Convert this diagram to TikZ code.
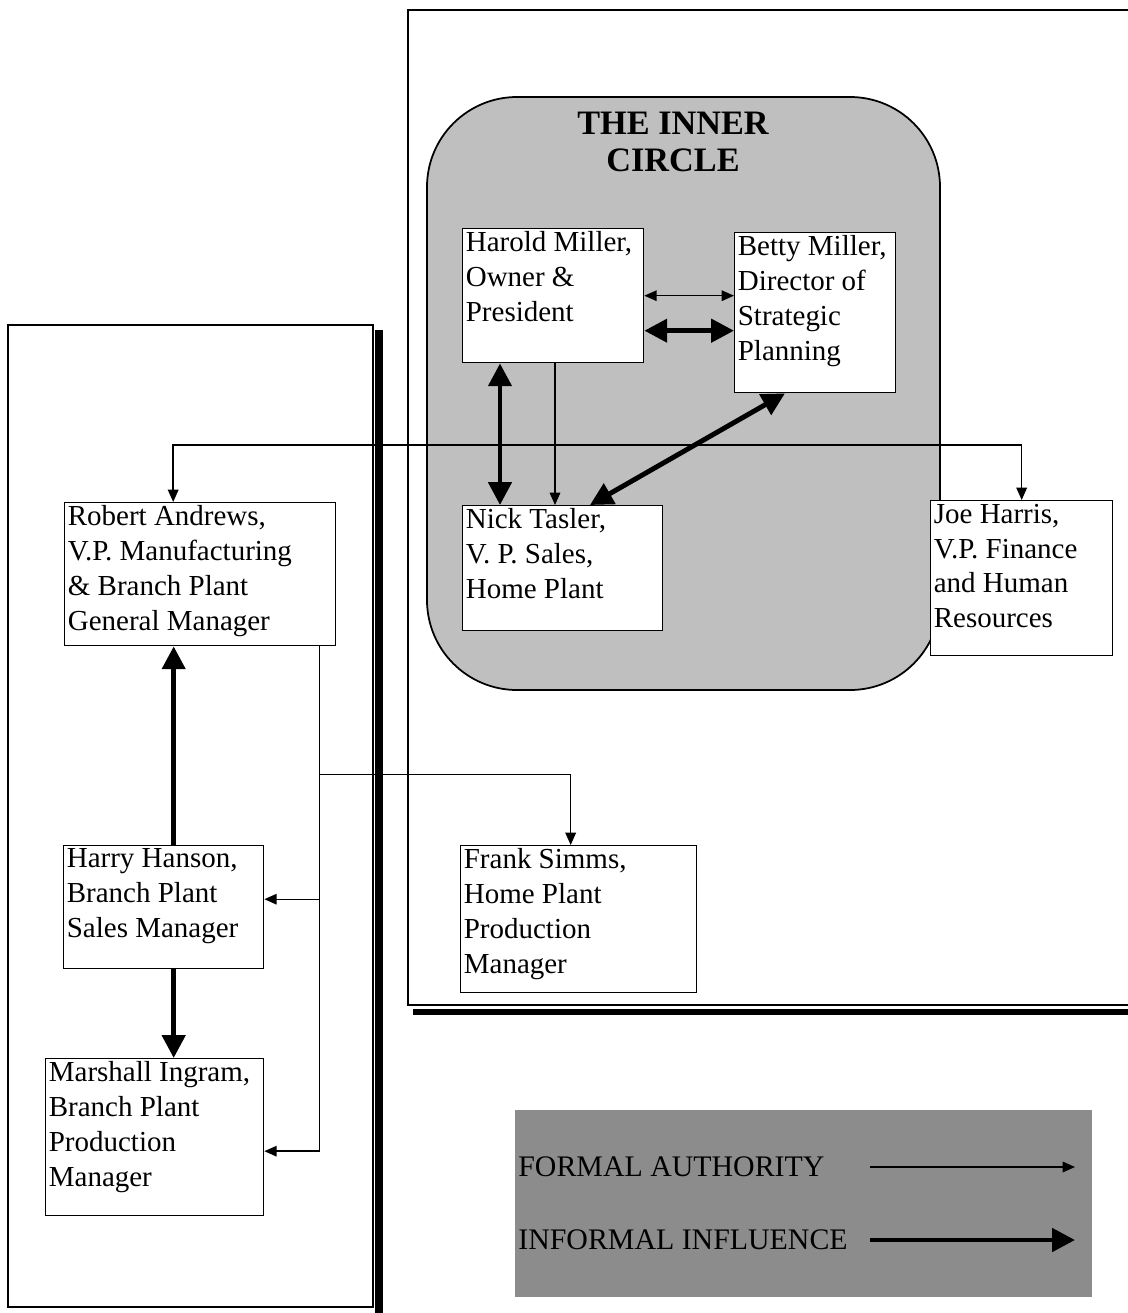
\documentclass[tikz,border=0pt]{standalone}
\usepackage{fontspec}
\setmainfont{Liberation Serif}
\usetikzlibrary{arrows.meta,positioning,calc}

\begin{document}
\begin{tikzpicture}[
  x=0.02cm, y=-0.02cm,
  frame/.style = {draw=black, line width=0.8pt},
  circle fill/.style = {draw=black, line width=1pt, fill=black!25},
  person/.style 2 args = {draw=black, line width=0.8pt, fill=white,
    anchor=north west, minimum width=#1, minimum height=#2, inner sep=0pt},
  who/.style = {anchor=north west, align=left, inner sep=2pt,
    font=\fontsize{16.5}{19.9}\selectfont},
  key/.style = {anchor=west, inner sep=0pt, font=\fontsize{17}{20}\selectfont},
  formal/.style = {line width=0.8pt, >={Triangle[length=7pt,width=6pt]}},
  informal/.style = {line width=2.8pt, >={Triangle[length=13pt,width=13pt]}},
  ]
  \useasboundingbox (0,0) rectangle (1128,1313);
  \fill[white] (0,0) rectangle (1128,1313);

  % the two frames with their shadows
  \draw[frame] (1128,10) -- (408,10) -- (408,1005) -- (1128,1005);
  \fill (413,1009) rectangle (1128,1015);
  \draw[frame] (8,325) rectangle (373,1307);
  \fill (375,330) rectangle (383,1313);

  % inner circle
  \draw[circle fill, rounded corners=1.8cm] (427,97) rectangle (940,690);
  \node[font=\fontsize{19.5}{21}\selectfont\bfseries, align=center] (title)
    at (673,142) {THE INNER\\CIRCLE};

  \node[person={3.62cm}{2.68cm}, label={[who]north west:{Harold Miller,\\Owner \&\\President}}] (harold) at (462,228) {};
  \node[person={3.22cm}{3.2cm}, label={[who]north west:{Betty Miller,\\Director of\\Strategic\\Planning}}] (betty) at (734,232) {};
  \node[person={4cm}{2.5cm}, label={[who]north west:{Nick Tasler,\\V. P. Sales,\\Home Plant}}] (nick) at (462,505) {};
  \node[person={3.64cm}{3.1cm}, label={[who]north west:{Joe Harris,\\V.P. Finance\\and Human\\Resources}}] (joe) at (930,500) {};
  \node[person={5.42cm}{2.86cm}, label={[who]north west:{Robert Andrews,\\V.P. Manufacturing\\\& Branch Plant\\General Manager}}] (robert) at (64,502) {};
  \node[person={4cm}{2.46cm}, label={[who]north west:{Harry Hanson,\\Branch Plant\\Sales Manager}}] (harry) at (63,845) {};
  \node[person={4.36cm}{3.14cm}, label={[who]north west:{Marshall Ingram,\\Branch Plant\\Production\\Manager}}] (marshall) at (45,1058) {};
  \node[person={4.72cm}{2.94cm}, label={[who]north west:{Frank Simms,\\Home Plant\\Production\\Manager}}] (frank) at (460,845) {};

  % formal authority
  \coordinate (hub) at (555,445);
  \draw[formal,->] (hub |- harold.south) -- (hub |- nick.north);
  \draw[formal,->] (hub) -| ([xshift=-0.54cm]robert.north);
  \draw[formal,->] (hub) -| (joe.north);
  \draw[formal,<->] (harold.east) -- (harold.east -| betty.west);
  \coordinate (trunk) at ([xshift=-0.34cm]robert.south east);
  \draw[formal,->] (trunk) |- ([yshift=0.16cm]harry.east);
  \draw[formal,->] (trunk) |- ([yshift=-0.28cm]marshall.east);
  \draw[formal,->] (trunk) ++(0,128) -| ([xshift=-0.16cm]frank.north);

  % informal influence
  \coordinate (hb) at ([yshift=-0.7cm]harold.east);
  \draw[informal,<->] (hb) -- (hb -| betty.west);
  \coordinate (hn) at ([xshift=0.76cm]harold.south west);
  \draw[informal,<->] (hn) -- (hn |- nick.north);
  \draw[informal,<->] ([xshift=1.02cm]betty.south west) -- ([xshift=2.56cm]nick.north west);
  \coordinate (hh) at ([xshift=0.2cm]harry.north);
  \draw[informal,->] (hh) -- (hh |- robert.south);
  \coordinate (hm) at ([xshift=0.2cm]harry.south);
  \draw[informal,->] (hm) -- (hm |- marshall.north);

  % legend
  \fill[black!45] (515,1110) rectangle (1092,1297);
  \foreach \txt/\kind/\yy in {FORMAL AUTHORITY/formal/1167, INFORMAL INFLUENCE/informal/1240} {
    \node[key] (key-\kind) at (518,\yy) {\txt};
    \coordinate (tail-\kind) at (870,\yy);
    \draw[\kind,->] (tail-\kind) -- ++(205,0);
  }
\end{tikzpicture}
\end{document}
